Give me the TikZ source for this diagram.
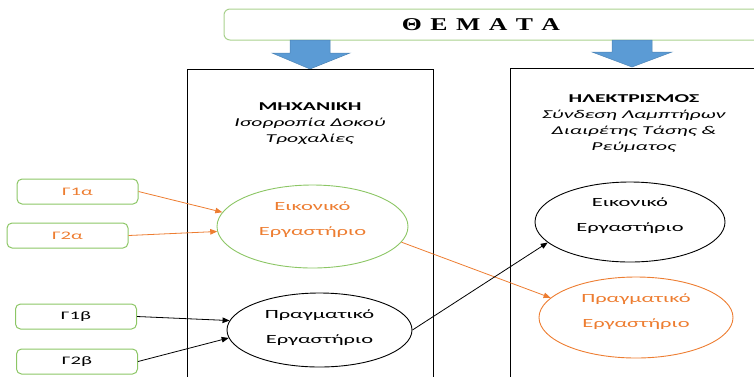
\documentclass[tikz,border=0pt]{standalone}
\usepackage{fontspec}
\setmainfont{Carlito}[FakeStretch=1.8]
\newfontfamily\titlefont{Liberation Serif}
\usetikzlibrary{shapes.geometric,arrows.meta}
\definecolor{ogreen}{HTML}{8CC665}
\definecolor{lgreen}{HTML}{A9D18E}
\definecolor{oorange}{HTML}{ED7D31}
\definecolor{oblue}{HTML}{5B9BD5}
\tikzset{
  gbox/.style={draw=ogreen, line width=1pt, rounded corners=5pt, minimum width=121pt, minimum height=25pt, inner sep=0pt, font=\fontsize{11.5}{14}\selectfont},
  ell/.style={ellipse, draw, line width=0.9pt, inner sep=0pt},
  elltext/.style={align=center, inner sep=0pt, font=\fontsize{12.5}{25}\selectfont},
  panel/.style={draw, line width=1.2pt, inner sep=0pt, anchor=north west},
  headtext/.style={align=center, inner sep=0pt, font=\fontsize{12}{16}\selectfont},
  arr/.style={-{Triangle[length=7pt,width=5.5pt]}, line width=0.8pt},
  blockarrow/.style={fill=oblue, draw=oblue!85!black, line width=0.5pt}
}
\begin{document}
\begin{tikzpicture}[x=1pt,y=-1pt]
\useasboundingbox (0,0) rectangle (754,376);
\clip (0,0) rectangle (754,376);
% title
\node[draw=lgreen, line width=1pt, rounded corners=6pt, minimum width=538pt, minimum height=31pt, inner sep=0pt] (title) at (493,24.5) {};
\node[inner sep=0pt, font=\titlefont\bfseries\fontsize{18}{20}\selectfont] (titletext) at (481,25)
  {\scalebox{1.43}[1]{Θ\hspace{5.9pt}Ε\hspace{5.9pt}Μ\hspace{5.9pt}Α\hspace{5.9pt}Τ\hspace{5.9pt}Α}};
% block arrows
\fill[blockarrow] (290,40) -- (330,40) -- (330,53) -- (350,53) -- (310,69) -- (272,53) -- (290,53) -- cycle;
\fill[blockarrow] (612,40) -- (652,40) -- (652,52) -- (672,52) -- (632,67) -- (592,52) -- (612,52) -- cycle;
% panels
\node[panel, minimum width=246pt, minimum height=320pt] (lpanel) at (187,69) {};
\node[panel, minimum width=252pt, minimum height=320pt] (rpanel) at (510,68) {};
\node[headtext] (lhead) at (310,124) {\textbf{ΜΗΧΑΝΙΚΗ}\\\textit{Ισορροπία Δοκού}\\\textit{Τροχαλίες}};
\node[headtext] (rhead) at (634,124) {\textbf{ΗΛΕΚΤΡΙΣΜΟΣ}\\\textit{Σύνδεση Λαμπτήρων}\\\textit{Διαιρέτης Τάσης \&}\\\textit{Ρεύματος}};
% ellipses
\node[ell, draw=ogreen, minimum width=191pt, minimum height=83pt] (lvirt) at (312.5,226.5) {};
\node[elltext, text=oorange] (lvirtt) at (312.5,220) {Εικονικό\\Εργαστήριο};
\node[ell, minimum width=185pt, minimum height=74pt] (lreal) at (319.5,330) {};
\node[elltext] (lrealt) at (319.5,328) {Πραγματικό\\Εργαστήριο};
\node[ell, minimum width=190pt, minimum height=80pt] (rvirt) at (630,222) {};
\node[elltext] (rvirtt) at (630,215.5) {Εικονικό\\Εργαστήριο};
\node[ell, draw=oorange, minimum width=194pt, minimum height=81pt] (rreal) at (636,317.5) {};
\node[elltext, text=oorange] (rrealt) at (636,312) {Πραγματικό\\Εργαστήριο};
% G boxes
\node[gbox, text=oorange] (g1a) at (77.5,191.5) {Γ1α};
\node[gbox, text=oorange] (g2a) at (67.5,235.5) {Γ2α};
\node[gbox] (g1b) at (76,316.5) {Γ1β};
\node[gbox] (g2b) at (77,361.5) {Γ2β};
% connectors
\draw[arr, oorange] (g1a.east) -- (lvirt.171);
\draw[arr, oorange] (g2a.east) -- (lvirt.183);
\draw[arr] (g1b.east) -- (lreal.174);
\draw[arr] (g2b.east) -- (lreal.185);
\draw[arr, oorange] (lvirt.-10) -- (rreal.167);
\draw[arr] (lreal.0) -- (rvirt.194);
\end{tikzpicture}
\end{document}
